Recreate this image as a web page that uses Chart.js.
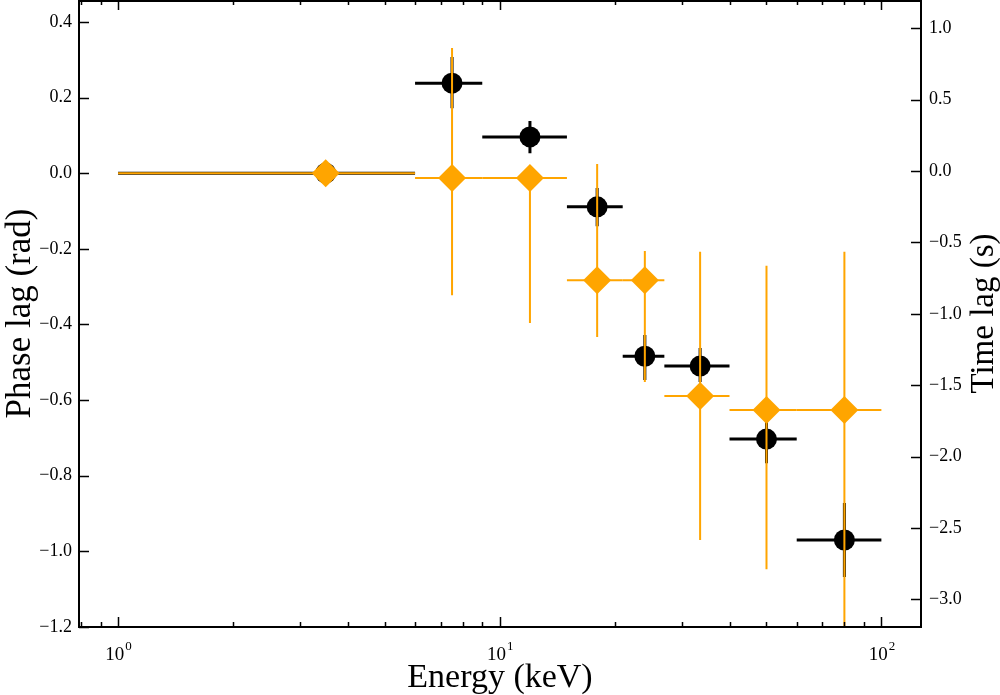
<!DOCTYPE html>
<html>
<head>
<meta charset="utf-8">
<script src="https://cdn.jsdelivr.net/npm/chart.js@4.4.0/dist/chart.umd.min.js"></script>
<style>
  body { margin: 0; background: #fff; }
  #wrap { width: 1000px; height: 695px; }
</style>
</head>
<body>
<div id="wrap"><canvas id="lagChart" width="1000" height="695"></canvas></div>
<script>
// energy bins (keV), centre and edges
const energy   = [3.5, 7.5, 12, 18, 24, 33.5, 50, 80];
const energyLo = [1, 6, 9, 15, 21, 27, 40, 60];
const energyHi = [6, 9, 15, 21, 27, 40, 60, 100];

// black circles: phase lag (rad) with lower / upper limits
const lagBlack   = [0, 0.238, 0.096, -0.089, -0.484, -0.510, -0.703, -0.970];
const lagBlackLo = [0, 0.172, 0.053, -0.140, -0.547, -0.552, -0.767, -1.068];
const lagBlackHi = [0, 0.307, 0.138, -0.039, -0.428, -0.462, -0.640, -0.872];

// orange diamonds
const lagOrange   = [0, -0.013, -0.013, -0.283, -0.283, -0.589, -0.626, -0.626];
const lagOrangeLo = [0, -0.323, -0.396, -0.433, -0.552, -0.970, -1.047, -1.300];
const lagOrangeHi = [0, 0.331, -0.013, 0.024, -0.206, -0.208, -0.245, -0.208];

// tick values
const phaseTicks = [-1.2, -1.0, -0.8, -0.6, -0.4, -0.2, 0.0, 0.2, 0.4];
const timeTicks = [-3.0, -2.5, -2.0, -1.5, -1.0, -0.5, 0.0, 0.5, 1.0];
const xMajorTicks = [1, 10, 100];
const xMajorExp = ['0', '1', '2'];
const xMinorTicks = [0.8, 0.9, 2, 3, 4, 5, 6, 7, 8, 9, 20, 30, 40, 50, 60, 70, 80, 90];

const ORANGE = '#ffa500';
const SERIF = '"Liberation Serif", "Times New Roman", serif';

function fmt(v) {
    return v.toFixed(1).replace('-', '\u2212');
}

// error bars are drawn just before each dataset's markers
const errorBars = {
    id: 'errorBars',
    beforeDatasetDraw(chart, args) {
        const ds = chart.data.datasets[args.index];
        if (!ds.errX) return;
        const {ctx, chartArea} = chart;
        const xs = chart.scales.x;
        const ys = chart.scales.y;
        ctx.save();
        ctx.beginPath();
        ctx.rect(chartArea.left, chartArea.top, chartArea.right - chartArea.left, chartArea.bottom - chartArea.top);
        ctx.clip();
        ctx.strokeStyle = ds.barColor;
        ctx.lineWidth = ds.barWidth;
        ds.data.forEach((p, i) => {
            const px = xs.getPixelForValue(p.x);
            const py = ys.getPixelForValue(p.y);
            ctx.beginPath();
            ctx.moveTo(xs.getPixelForValue(ds.errX[0][i]), py);
            ctx.lineTo(xs.getPixelForValue(ds.errX[1][i]), py);
            if (ds.errY[0][i] !== ds.errY[1][i]) {
                ctx.moveTo(px, ys.getPixelForValue(ds.errY[0][i]));
                ctx.lineTo(px, ys.getPixelForValue(ds.errY[1][i]));
            }
            ctx.stroke();
        });
        ctx.restore();
    }
};

// frame, inward ticks, x labels with exponents, right-hand title
const frame = {
    id: 'frame',
    afterDraw(chart) {
        const {ctx, chartArea: a} = chart;
        const xs = chart.scales.x, ys = chart.scales.y, y2 = chart.scales.y2;
        ctx.save();
        ctx.strokeStyle = '#000';
        ctx.lineWidth = 2;
        ctx.strokeRect(a.left, a.top + 1, a.right - a.left, a.bottom - a.top - 1);

        ctx.lineWidth = 1.5;
        ctx.beginPath();
        const xTick = (v, len) => {
            const px = Math.round(xs.getPixelForValue(v)) + 0.5;
            ctx.moveTo(px, a.bottom); ctx.lineTo(px, a.bottom - len);
            ctx.moveTo(px, a.top); ctx.lineTo(px, a.top + len);
        };
        xMajorTicks.forEach(v => xTick(v, 10));
        xMinorTicks.forEach(v => xTick(v, 5));
        phaseTicks.forEach(v => {
            const py = Math.round(ys.getPixelForValue(v)) + 0.5;
            ctx.moveTo(a.left, py); ctx.lineTo(a.left + 10, py);
        });
        timeTicks.forEach(v => {
            const py = Math.round(y2.getPixelForValue(v)) + 0.5;
            ctx.moveTo(a.right, py); ctx.lineTo(a.right - 10, py);
        });
        ctx.stroke();

        ctx.fillStyle = '#000';
        ctx.textBaseline = 'alphabetic';
        xMajorTicks.forEach((v, i) => {
            const px = xs.getPixelForValue(v);
            ctx.font = '19px ' + SERIF;
            const wb = ctx.measureText('10').width;
            ctx.font = '13px ' + SERIF;
            const we = ctx.measureText(xMajorExp[i]).width;
            const x0 = px - (wb + we) / 2;
            ctx.font = '19px ' + SERIF;
            ctx.textAlign = 'left';
            ctx.fillText('10', x0, a.bottom + 33);
            ctx.font = '13px ' + SERIF;
            ctx.fillText(xMajorExp[i], x0 + wb + 1, a.bottom + 23);
        });

        ctx.font = '33px ' + SERIF;
        ctx.translate(984, (a.top + a.bottom) / 2);
        ctx.rotate(-Math.PI / 2);
        ctx.textAlign = 'center';
        ctx.textBaseline = 'middle';
        ctx.fillText('Time lag (s)', 0, 0);
        ctx.restore();
    }
};

const ctx = document.getElementById('lagChart').getContext('2d');
new Chart(ctx, {
    type: 'scatter',
    data: {
        datasets: [
            {
                label: 'orange',
                data: energy.map((e, i) => ({x: e, y: lagOrange[i]})),
                errX: [energyLo, energyHi],
                errY: [lagOrangeLo, lagOrangeHi],
                barColor: ORANGE,
                barWidth: 2,
                pointStyle: 'rectRot',
                pointRadius: 14,
                pointHoverRadius: 14,
                backgroundColor: ORANGE,
                borderWidth: 0,
                order: 1
            },
            {
                label: 'black',
                data: energy.map((e, i) => ({x: e, y: lagBlack[i]})),
                errX: [energyLo, energyHi],
                errY: [lagBlackLo, lagBlackHi],
                barColor: '#000',
                barWidth: 3,
                pointStyle: 'circle',
                pointRadius: 10.5,
                pointHoverRadius: 10.5,
                backgroundColor: '#000',
                borderWidth: 0,
                order: 2
            }
        ]
    },
    options: {
        responsive: false,
        animation: false,
        layout: { padding: 0, autoPadding: false },
        plugins: {
            legend: { display: false },
            tooltip: { enabled: false }
        },
        scales: {
            x: {
                type: 'logarithmic',
                min: 0.79,
                max: 127,
                grid: { display: false, drawTicks: false },
                border: { display: false },
                ticks: { display: false },
                title: {
                    display: true,
                    text: 'Energy (keV)',
                    color: '#000',
                    font: { family: SERIF, size: 34, lineHeight: 1 },
                    padding: { top: 0, bottom: 0 }
                },
                afterFit: s => { s.height = 68; }
            },
            y: {
                position: 'left',
                min: -1.2,
                max: 0.458,
                grid: { display: false, drawTicks: false },
                border: { display: false },
                afterBuildTicks: s => { s.ticks = phaseTicks.map(v => ({value: v})); },
                ticks: {
                    color: '#000',
                    padding: 7,
                    font: { family: SERIF, size: 18 },
                    callback: v => fmt(v)
                },
                title: {
                    display: true,
                    text: 'Phase lag (rad)',
                    color: '#000',
                    font: { family: SERIF, size: 35, lineHeight: 1 },
                    padding: { top: 3, bottom: 0 }
                },
                afterFit: s => { s.width = 79; s.paddingTop = 0; s.paddingBottom = 0; }
            },
            y2: {
                position: 'right',
                min: -3.193,
                max: 1.197,
                grid: { display: false, drawTicks: false },
                border: { display: false },
                afterBuildTicks: s => { s.ticks = timeTicks.map(v => ({value: v})); },
                ticks: {
                    color: '#000',
                    padding: 8,
                    font: { family: SERIF, size: 18 },
                    callback: v => fmt(v)
                },
                afterFit: s => { s.width = 79; s.paddingTop = 0; s.paddingBottom = 0; }
            }
        }
    },
    plugins: [errorBars, frame]
});
</script>
</body>
</html>
